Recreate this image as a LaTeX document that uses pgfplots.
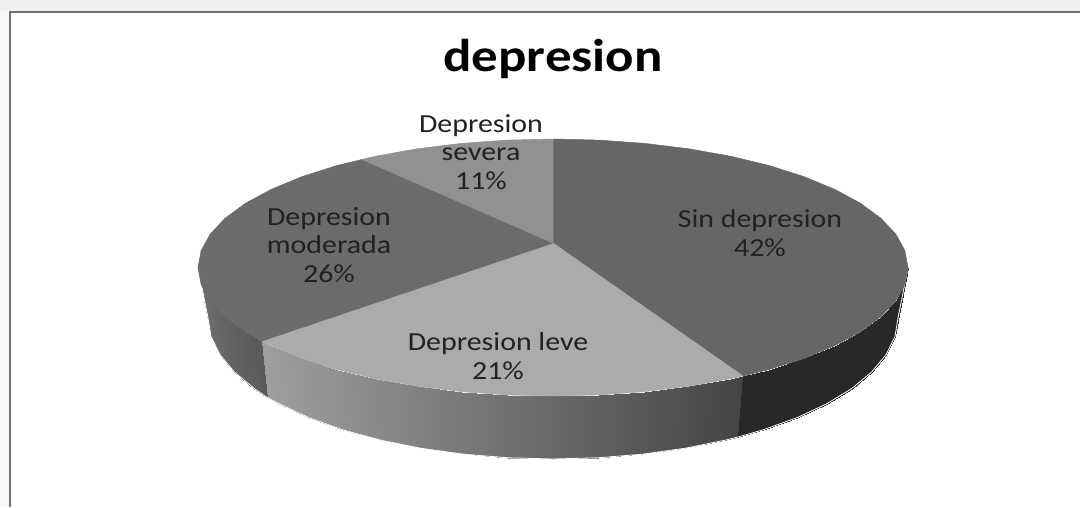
\documentclass[border=0pt]{standalone}
\usepackage{pgfplots}
\pgfplotsset{compat=1.18}
\usepackage{fontspec}
\setmainfont[FakeStretch=1.15]{Carlito}
\definecolor{labeltext}{gray}{0.13}
\begin{document}
\begin{tikzpicture}
\begin{axis}[
  at={(0pt,0pt)}, anchor=south west,
  width=1080pt, height=507pt, scale only axis,
  xmin=0, xmax=1080, ymin=0, ymax=507, y dir=reverse,
  hide axis,
  colormap={g}{gray(0cm)=(0); gray(1cm)=(1)},
  point meta min=0, point meta max=1,
]
% surroundings of the chart frame
\addplot[fill=black!6, draw=none] coordinates {(0,0) (1080,0) (1080,11) (0,11)} --cycle;
\addplot[fill=black!3, draw=none] coordinates {(0,11) (9,11) (9,507) (0,507)} --cycle;
\addplot[draw=black!55, line width=2pt] coordinates {(10,507) (10,12) (1080,12)};

% side wall: Depresion moderada
\addplot[surf, shader=interp, mesh/rows=2, point meta=explicit] table[meta=c] {
x y c
198 267.5 .44
201.1 284.3 .43
210.1 300.8 .41
225 316.7 .39
245.6 331.8 .365
262 341 .35
208 318 .44
211 336.4 .43
219.8 354.5 .41
234.3 372 .39
254.2 388.5 .365
268 398 .35
};
% side wall: Depresion leve
\addplot[surf, shader=interp, mesh/rows=2, point meta=explicit] table[meta=c] {
x y c
262 341 .62
271.3 345.7 .613
302 358.4 .591
336.9 369.5 .565
375.5 378.8 .537
417.1 386.2 .507
461.1 391.6 .475
506.7 394.9 .442
553 396 .408
599.3 394.9 .375
644.9 391.6 .342
688.9 386.2 .309
730.5 378.8 .279
743 376 .27
268 398 .62
279.3 403.8 .613
309 417.7 .591
343 429.9 .565
380.5 440.1 .537
421 448.3 .507
463.7 454.2 .475
508 457.8 .442
553 459 .408
598 457.8 .375
642.3 454.2 .342
685 448.3 .309
725.5 440.1 .279
738 437 .27
};
% side wall: Sin depresion
\addplot[surf, shader=interp, mesh/rows=2, point meta=explicit] table[meta=c] {
x y c
743 376 .155
769.1 369.5 .155
804 358.4 .155
834.7 345.7 .155
860.4 331.8 .155
881 316.7 .155
895.9 300.8 .155
904.9 284.3 .155
908 267.5 .155
738 437 .155
763 429.9 .155
797 417.7 .155
826.7 403.8 .155
851.8 388.5 .155
871.7 372 .155
886.2 354.5 .155
895 336.4 .155
898 318 .155
};
% soft outline over the wall's lower edge
\addplot[white, line width=0.8pt] coordinates {
(198,267.5) (208,318) (211,336.4) (219.8,354.5) (234.3,372) (254.2,388.5) (268,398) (279.3,403.8) (309,417.7) (343,429.9) (380.5,440.1) (421,448.3) (463.7,454.2) (508,457.8) (553,459) (598,457.8) (642.3,454.2) (685,448.3) (725.5,440.1) (738,437) (763,429.9) (797,417.7) (826.7,403.8) (851.8,388.5) (871.7,372) (886.2,354.5) (895,336.4) (898,318) (908,267.5)
};

% top faces
\addplot[fill=black!60, draw=black!60, line width=0.5pt] coordinates {
(553,243) (553,139) (599.3,140.1) (644.9,143.4) (688.9,148.8) (730.5,156.2) (769.1,165.5) (804,176.6) (834.7,189.3) (860.4,203.2) (881,218.3) (895.9,234.2) (904.9,250.7) (908,267.5) (904.9,284.3) (895.9,300.8) (881,316.7) (860.4,331.8) (834.7,345.7) (804,358.4) (769.1,369.5) (743,376)
} --cycle;
\addplot[fill=black!33, draw=black!33, line width=0.5pt] coordinates {
(553,243) (743,376) (730.5,378.8) (688.9,386.2) (644.9,391.6) (599.3,394.9) (553,396) (506.7,394.9) (461.1,391.6) (417.1,386.2) (375.5,378.8) (336.9,369.5) (302,358.4) (271.3,345.7) (262,341)
} --cycle;
\addplot[fill=black!58, draw=black!58, line width=0.5pt] coordinates {
(553,243) (262,341) (245.6,331.8) (225,316.7) (210.1,300.8) (201.1,284.3) (198,267.5) (201.1,250.7) (210.1,234.2) (225,218.3) (245.6,203.2) (271.3,189.3) (302,176.6) (336.9,165.5) (362,159.5)
} --cycle;
\addplot[fill=black!43, draw=black!43, line width=0.5pt] coordinates {
(553,243) (362,159.5) (375.5,156.2) (417.1,148.8) (461.1,143.4) (506.7,140.1) (553,139)
} --cycle;

% title and labels
\node[text=black, font=\fontsize{46}{50}\selectfont\bfseries] at (axis cs:553,59) {depresion};
\node[text=labeltext, align=center, font=\fontsize{26}{28.5}\selectfont] at (axis cs:760,233) {Sin depresion\\42\%};
\node[text=labeltext, align=center, font=\fontsize{26}{28.5}\selectfont] at (axis cs:498,356) {Depresion leve\\21\%};
\node[text=labeltext, align=center, font=\fontsize{26}{28.5}\selectfont] at (axis cs:329,245) {Depresion\\moderada\\26\%};
\node[text=labeltext, align=center, font=\fontsize{26}{28.5}\selectfont] at (axis cs:481,152) {Depresion\\severa\\11\%};
\end{axis}
\end{tikzpicture}
\end{document}
